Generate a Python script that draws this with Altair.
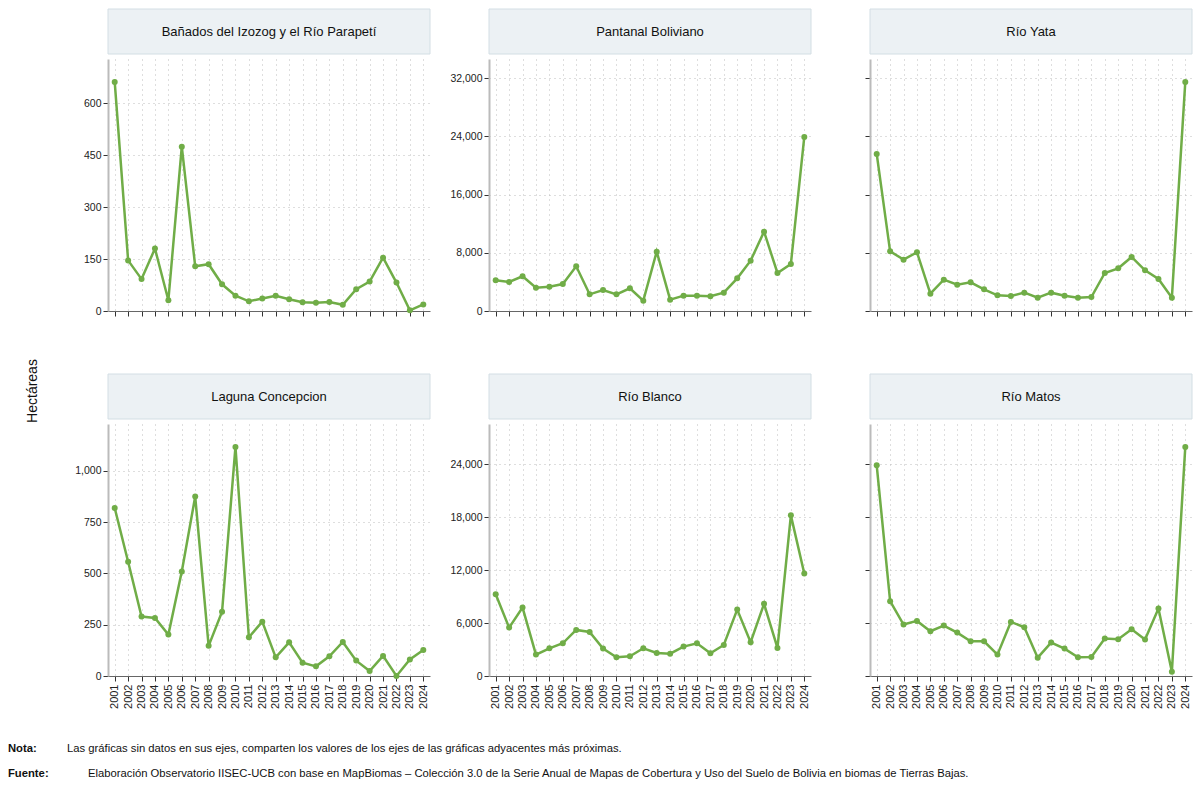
import altair as alt
import pandas as pd

years = [str(y) for y in range(2001, 2025)]

titles = [
    "Bañados del Izozog y el Río Parapetí",
    "Pantanal Boliviano",
    "Río Yata",
    "Laguna Concepcion",
    "Río Blanco",
    "Río Matos",
]

izozog = [661, 146, 92, 180, 31, 474, 129, 135, 77, 44, 28, 36, 44, 34, 25, 24, 26, 18, 63, 85, 154, 82, 2, 19]
pantanal = [4218, 3989, 4768, 3209, 3347, 3713, 6143, 2292, 2888, 2292, 3117, 1421, 8161, 1559, 2109, 2109,
            2017, 2522, 4493, 6923, 10911, 5227, 6464, 23932]
yata = [21594, 8206, 7060, 8069, 2384, 4310, 3622, 3943, 2980, 2155, 2063, 2522, 1834, 2522, 2109, 1834,
        1926, 5227, 5868, 7427, 5593, 4401, 1834, 31497]
concepcion = [819, 557, 290, 283, 202, 510, 875, 147, 313, 1117, 189, 265, 91, 164, 65, 47, 96, 166, 75, 24,
              98, 0, 81, 127]
blanco = [9274, 5489, 7760, 2423, 3142, 3710, 5224, 4997, 3104, 2120, 2233, 3142, 2612, 2536, 3331, 3710,
          2574, 3520, 7533, 3823, 8177, 3180, 18208, 11621]
matos = [23886, 8479, 5830, 6246, 5072, 5716, 4921, 3937, 3937, 2423, 6132, 5527, 2082, 3785, 3104, 2120,
         2158, 4240, 4164, 5300, 4126, 7647, 492, 25968]

series = [izozog, pantanal, yata, concepcion, blanco, matos]

ticks_izozog = [0, 150, 300, 450, 600]
ticks_top = [0, 8000, 16000, 24000, 32000]
ticks_concepcion = [0, 250, 500, 750, 1000]
ticks_bottom = [0, 6000, 12000, 18000, 24000]

nota_label = "Nota:"
nota_text = "Las gráficas sin datos en sus ejes, comparten los valores de los ejes de las gráficas adyacentes más próximas."
fuente_label = "Fuente:"
fuente_text = ("Elaboración Observatorio IISEC-UCB con base en MapBiomas – Colección 3.0 de la Serie Anual de Mapas "
               "de Cobertura y Uso del Suelo de Bolivia en biomas de Tierras Bajas.")
ytitle = "Hectáreas"

W, H = 322, 252
GREEN = "#70AD47"
FONT = "Liberation Sans"

dom_top = max(max(pantanal), max(yata)) * 1.1
dom_bot = max(max(blanco), max(matos)) * 1.1
domains = [max(izozog) * 1.1, dom_top, dom_top, max(concepcion) * 1.1, dom_bot, dom_bot]
tickvals = [ticks_izozog, ticks_top, ticks_top, ticks_concepcion, ticks_bottom, ticks_bottom]

one = alt.Data(values=[{"k": 1}])


def panel(i):
    df = pd.DataFrame({"Año": years, "v": series[i]})
    bottom = i >= 3
    show_y_labels = i in (0, 1, 3, 4)
    x = alt.X("Año:O", scale=alt.Scale(type="point", padding=0.5),
              axis=alt.Axis(title=None, labels=bottom, labelAngle=-90, labelFontSize=11,
                            labelColor="#222", labelFont=FONT, labelPadding=3,
                            ticks=True, tickSize=5, tickColor="#333", domainColor="#666",
                            grid=True, gridDash=[1, 4], gridColor="#BDBDBD"))
    y = alt.Y("v:Q", scale=alt.Scale(domain=[0, domains[i]], nice=False, zero=True),
              axis=alt.Axis(title=None, values=tickvals[i], format=",d", labels=show_y_labels,
                            labelFontSize=10.5, labelColor="#222", labelFont=FONT,
                            tickSize=5, tickColor="#333", domainColor="#BBBBBB", domainWidth=2,
                            grid=True, gridDash=[1, 4], gridColor="#BDBDBD"))
    base = alt.Chart(df)
    line = base.mark_line(color=GREEN, strokeWidth=2.5).encode(x=x, y=y)
    pts = base.mark_circle(color=GREEN, size=36, opacity=1).encode(x=x, y=y)
    strip = alt.Chart(one).mark_rect(fill="#ECF1F4", stroke="#D3DEE4", strokeWidth=1).encode(
        x=alt.value(0), x2=alt.value(W), y=alt.value(-50), y2=alt.value(-5))
    stxt = alt.Chart(one).mark_text(text=titles[i], fontSize=13, font=FONT, color="#111",
                                    align="center", baseline="middle").encode(
        x=alt.value(W / 2), y=alt.value(-27.5))
    layers = [strip, stxt, line, pts]
    if i == 0:
        layers.append(alt.Chart(one).mark_text(text=ytitle, fontSize=14, font=FONT, color="#111",
                                               angle=270, align="center", baseline="middle").encode(
            x=alt.value(-75), y=alt.value(332)))
    if i == 3:
        for txt, xx, yy, bold in [(nota_label, -100, 325, True), (nota_text, -41, 325, False),
                                  (fuente_label, -100, 350, True), (fuente_text, -20, 350, False)]:
            layers.append(alt.Chart(one).mark_text(text=txt, fontSize=11.25, font=FONT, color="#111",
                                                   fontWeight="bold" if bold else "normal",
                                                   align="left", baseline="middle").encode(
                x=alt.value(xx), y=alt.value(yy)))
    return alt.layer(*layers).properties(width=W, height=H)


chart = alt.concat(*[panel(i) for i in range(6)], columns=3, spacing={"row": 113, "column": 59},
                   bounds="flush").resolve_scale(y="independent", x="independent").properties(
    padding={"left": 8, "top": 8, "right": 5, "bottom": 5}, background="white"
).configure_view(stroke=None).configure_axis(labelFont=FONT)

chart.save("out.html", embed_options={"renderer": "svg", "actions": False})
